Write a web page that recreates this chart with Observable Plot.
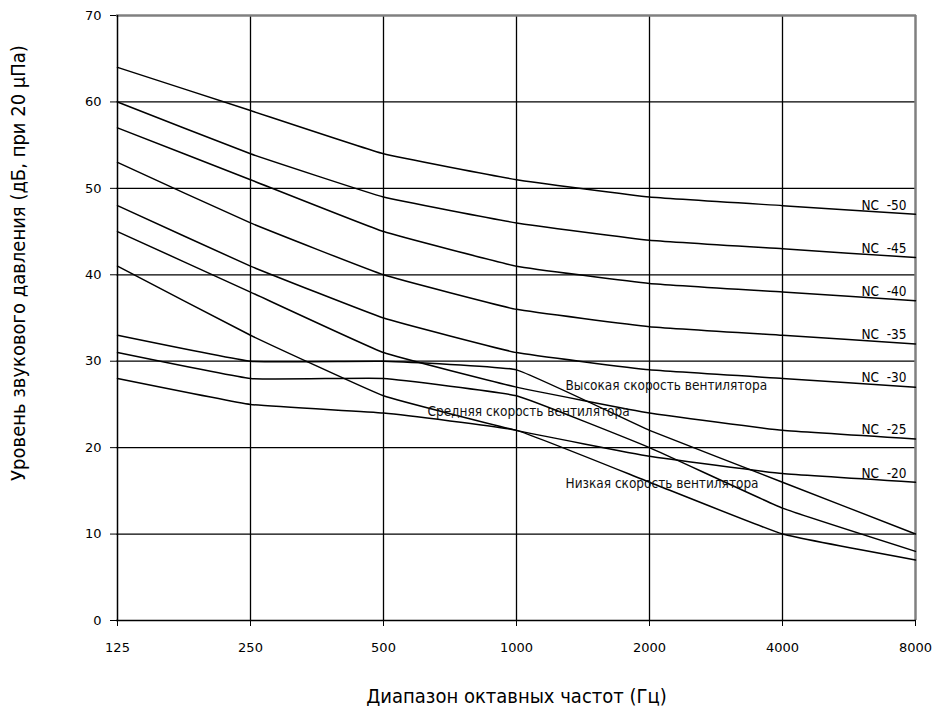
<!DOCTYPE html>
<html>
<head>
<meta charset="utf-8">
<script src="https://cdn.jsdelivr.net/npm/d3@7"></script>
<script src="https://cdn.jsdelivr.net/npm/@observablehq/plot@0.6"></script>
<style>
  html, body { margin: 0; padding: 0; background: #fff; }
  #chart { width: 936px; height: 716px; }
</style>
</head>
<body>
<div id="chart"></div>
<script>
// Octave band centre frequencies (categories)
const freqs = ["125", "250", "500", "1000", "2000", "4000", "8000"];
const yTicks = [0, 10, 20, 30, 40, 50, 60, 70];

// NC curves (dB)
const ncNames = ["NC -50", "NC -45", "NC -40", "NC -35", "NC -30", "NC -25", "NC -20"];
const nc50 = [64, 59, 54, 51, 49, 48, 47];
const nc45 = [60, 54, 49, 46, 44, 43, 42];
const nc40 = [57, 51, 45, 41, 39, 38, 37];
const nc35 = [53, 46, 40, 36, 34, 33, 32];
const nc30 = [48, 41, 35, 31, 29, 28, 27];
const nc25 = [45, 38, 31, 27, 24, 22, 21];
const nc20 = [41, 33, 26, 22, 19, 17, 16];

// Fan speed curves (dB)
const fanNames = ["Высокая скорость вентилятора", "Средняя скорость вентилятора", "Низкая скорость вентилятора"];
const fanHigh = [33, 30, 30, 29, 22, 16, 10];
const fanMedium = [31, 28, 28, 26, 20, 13, 8];
const fanLow = [28, 25, 24, 22, 16, 10, 7];
// annotation anchor (category, value) for fan labels
const fanLabelFreq = ["1000", "500", "1000"];
const fanLabelValue = [27.2, 24.2, 15.8];

const yTitle = "Уровень звукового давления (дБ, при 20 µПа)";
const xTitle = "Диапазон октавных частот (Гц)";

const ncSeries = [nc50, nc45, nc40, nc35, nc30, nc25, nc20];
const fanSeries = [fanHigh, fanMedium, fanLow];

const rows = [];
ncSeries.forEach((s, i) => s.forEach((v, j) => rows.push({series: ncNames[i], freq: freqs[j], value: v})));
fanSeries.forEach((s, i) => s.forEach((v, j) => rows.push({series: fanNames[i], freq: freqs[j], value: v})));

const ncLabels = ncSeries.map((s, i) => ({text: ncNames[i].replace(" ", "\u00a0\u00a0"), freq: freqs[freqs.length - 1], value: s[s.length - 1]}));
const fanLabels = fanNames.map((n, i) => ({text: n, freq: fanLabelFreq[i], value: fanLabelValue[i]}));
const fanLabelDx = [49, 44, 49];

const condensed = "'DejaVu Sans Condensed', 'Liberation Sans Narrow', 'Noto Sans', sans-serif";

const chart = Plot.plot({
  width: 936,
  height: 716,
  marginTop: 15,
  marginBottom: 96,
  marginLeft: 116,
  marginRight: 20,
  style: {fontFamily: "'DejaVu Sans', Verdana, sans-serif", fontSize: "13px", color: "#000", background: "#fff"},
  x: {type: "point", domain: freqs, padding: 0},
  y: {domain: [0, 70]},
  marks: [
    Plot.ruleX(freqs.slice(1, -1), {stroke: "#000", strokeWidth: 1.3}),
    Plot.ruleY(yTicks.slice(1, -1), {stroke: "#000", strokeWidth: 1.3}),
    Plot.ruleY([70], {stroke: "#808080", strokeWidth: 2.5}),
    Plot.ruleX([freqs[freqs.length - 1]], {stroke: "#808080", strokeWidth: 2.5}),
    Plot.line(rows, {x: "freq", y: "value", z: "series", curve: d3.curveCardinal.tension(0.7), stroke: "#000", strokeWidth: 1.5}),
    Plot.axisX({ticks: freqs, tickSize: 6, tickPadding: 16, label: null, fontSize: 13}),
    Plot.axisY({ticks: yTicks, tickSize: 6, tickPadding: 9, label: null, fontSize: 13}),
    Plot.ruleX([freqs[0]], {stroke: "#000", strokeWidth: 1.5}),
    Plot.ruleY([0], {stroke: "#000", strokeWidth: 1.5}),
    Plot.text(ncLabels, {x: "freq", y: "value", text: "text", textAnchor: "end", dx: -9, dy: -9, fontSize: 13.5, fontFamily: condensed, fill: "#000"}),
    ...fanLabels.map((d, i) => Plot.text([d], {x: "freq", y: "value", text: "text", textAnchor: "start", dx: fanLabelDx[i], fontSize: 13.5, fontFamily: condensed, fill: "#111"})),
    Plot.text([xTitle], {frameAnchor: "bottom", textAnchor: "middle", dy: 82, fontSize: 20, fontFamily: condensed, fill: "#000"}),
    Plot.text([yTitle], {frameAnchor: "left", textAnchor: "middle", dx: -98, dy: -55, rotate: -90, fontSize: 20, fontFamily: condensed, fill: "#000"})
  ]
});
document.getElementById("chart").appendChild(chart);
</script>
</body>
</html>
